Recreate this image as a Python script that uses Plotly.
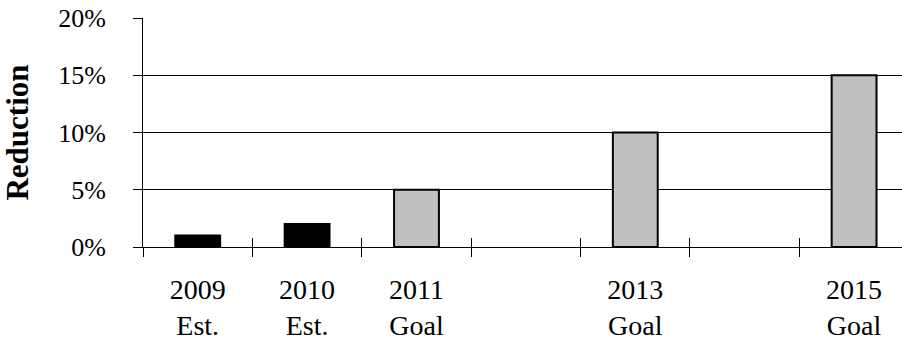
import plotly.graph_objects as go

# Reduction estimates and goals by year
categories = ["2009<br>Est.", "2010<br>Est.", "2011<br>Goal", " ", "2013<br>Goal", "  ", "2015<br>Goal"]
values = [1, 2, 5, None, 10, None, 15]
kinds = ["Est.", "Est.", "Goal", None, "Goal", None, "Goal"]
y_ticks = [0, 5, 10, 15, 20]
y_tick_labels = ["0%", "5%", "10%", "15%", "20%"]

fill_for = {"Est.": "#000000", "Goal": "#C0C0C0"}
colors = [fill_for.get(k, "#ffffff") for k in kinds]

FONT = "Liberation Serif"
x_range = [-0.5, 6.438]
y_range = [0, 20]

fig = go.Figure()
fig.add_trace(go.Bar(
    x=categories, y=values,
    marker=dict(color=colors, line=dict(color="#000000", width=2)),
    width=0.41,
    showlegend=False,
    hoverinfo="skip",
))
# invisible helper trace so the inner-tick axes get drawn
fig.add_trace(go.Scatter(x=[0], y=[0], xaxis="x2", yaxis="y2",
                         mode="markers", marker=dict(opacity=0), showlegend=False,
                         hoverinfo="skip"))

fig.update_layout(
    width=902, height=344,
    margin=dict(l=143, r=0, t=18, b=97),
    paper_bgcolor="white", plot_bgcolor="white",
    font=dict(family=FONT, color="black"),
    xaxis=dict(
        type="category", categoryorder="array", categoryarray=categories,
        range=x_range, tickson="boundaries",
        ticks="outside", ticklen=9, tickwidth=1, tickcolor="black",
        showline=True, linecolor="black", linewidth=1,
        showgrid=False, zeroline=False,
        tickfont=dict(family=FONT, size=28, color="black"),
        ticklabelstandoff=17,
    ),
    yaxis=dict(
        range=y_range, tickvals=y_ticks, ticktext=y_tick_labels,
        ticks="outside", ticklen=9, tickwidth=1, tickcolor="black",
        showline=True, linecolor="black", linewidth=1,
        showgrid=True, gridcolor="black", gridwidth=1,
        zeroline=False,
        tickfont=dict(family=FONT, size=26, color="black"),
        ticklabelstandoff=22,
        title=dict(text="<b>Reduction</b>", font=dict(family=FONT, size=31, color="black"),
                   standoff=30),
    ),
    xaxis2=dict(
        overlaying="x", range=[x_range[0], x_range[1]],
        tickvals=[i - 0.5 for i in range(len(categories))],
        ticks="inside", ticklen=9, tickwidth=1, tickcolor="black",
        showticklabels=False, showgrid=False, zeroline=False, showline=False,
    ),
    yaxis2=dict(
        overlaying="y", range=y_range, tickvals=y_ticks,
        ticks="inside", ticklen=9, tickwidth=1, tickcolor="black",
        showticklabels=False, showgrid=False, zeroline=False, showline=False,
    ),
)

fig.write_html("out.html")
